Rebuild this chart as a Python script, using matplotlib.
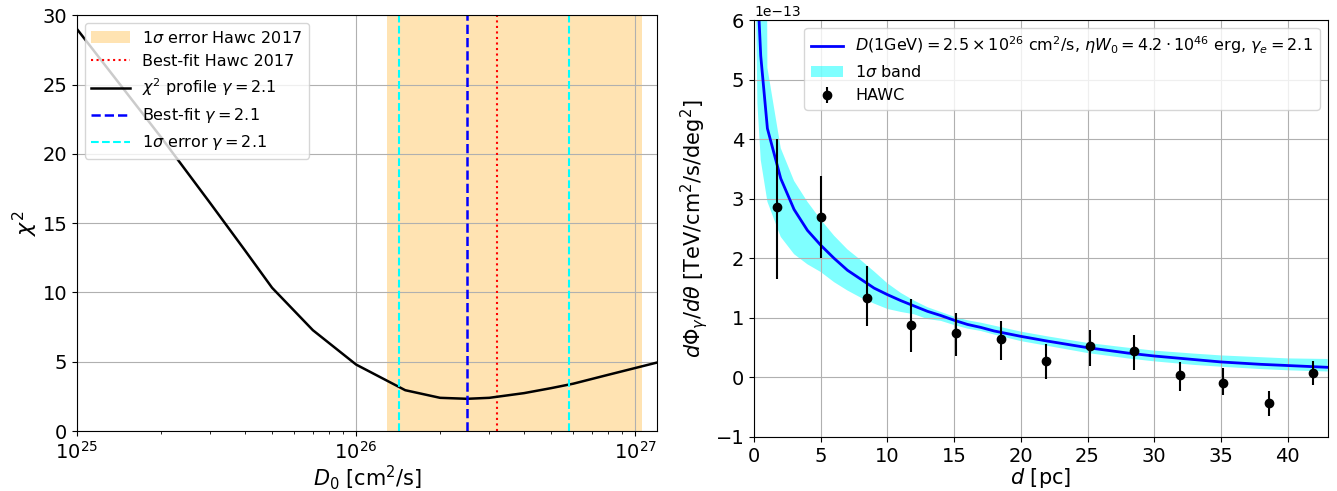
import numpy as np
import matplotlib
matplotlib.use("Agg")
import matplotlib.pyplot as plt

# ---------------- Left panel data ----------------
D0_values = [1e25, 2e25, 3e25, 4e25, 5e25, 7e25, 1e26, 1.5e26, 2e26, 2.5e26,
             3e26, 4e26, 5e26, 6e26, 8e26, 1e27, 1.2e27]
chi2_values = [29.0, 21.2, 16.45, 13.03, 10.34, 7.28, 4.8, 2.95, 2.40, 2.33,
               2.40, 2.74, 3.10, 3.42, 4.06, 4.55, 4.95]
hawc2017_band = [1.29e26, 1.06e27]
hawc2017_best = 3.2e26
bestfit_gamma21 = 2.5e26
err_gamma21 = [1.43e26, 5.8e26]

# ---------------- Right panel data (units of 1e-13) ----------------
SCALE = 1e-13
d_model = [0.1, 0.25, 0.5, 1, 2, 3, 4, 5, 6, 7, 8, 9, 10, 11, 12, 13, 14, 15,
           16, 17, 18, 20, 22, 25, 28, 30, 33, 35, 38, 40, 43]
model_central = [9.0, 6.6, 5.4, 4.18, 3.34, 2.82, 2.47, 2.22, 2.0, 1.80, 1.65,
                 1.50, 1.39, 1.29, 1.20, 1.11, 1.04, 0.96, 0.89, 0.84, 0.78,
                 0.69, 0.61, 0.50, 0.41, 0.36, 0.30, 0.26, 0.22, 0.20, 0.17]
model_upper = [60, 50, 30, 5.2, 3.85, 3.3, 2.95, 2.65, 2.38, 2.15, 1.97, 1.78,
               1.58, 1.42, 1.29, 1.18, 1.10, 1.02, 0.96, 0.92, 0.87, 0.77,
               0.69, 0.58, 0.50, 0.45, 0.40, 0.37, 0.34, 0.32, 0.31]
model_lower = [7.0, 4.6, 3.65, 2.95, 2.36, 2.07, 1.90, 1.77, 1.60, 1.46, 1.34,
               1.24, 1.15, 1.10, 1.06, 0.98, 0.95, 0.88, 0.82, 0.78, 0.72,
               0.61, 0.53, 0.41, 0.32, 0.27, 0.21, 0.18, 0.14, 0.12, 0.10]

d_hawc = [1.75, 5.0, 8.48, 11.8, 15.15, 18.48, 21.85, 25.18, 28.48, 31.93,
          35.15, 38.63, 41.93]
flux_hawc = [2.857, 2.69, 1.339, 0.885, 0.753, 0.652, 0.275, 0.528, 0.444,
             0.04, -0.095, -0.433, 0.073]
flux_err_hi = [4.01, 3.38, 1.87, 1.31, 1.084, 0.95, 0.556, 0.79, 0.708, 0.253,
               0.157, -0.236, 0.27]
flux_err_lo = [1.65, 2.01, 0.863, 0.426, 0.36, 0.287, -0.034, 0.2, 0.118,
               -0.23, -0.287, -0.65, -0.135]

fig = plt.figure(figsize=(13.37, 4.91), dpi=100)
ax1 = fig.add_axes([0.0576, 0.122, 0.434, 0.847])
ax2 = fig.add_axes([0.564, 0.110, 0.429, 0.849])

# ---- Left panel ----
ax1.axvspan(hawc2017_band[0], hawc2017_band[1], color='orange', alpha=0.3,
            lw=0, label='1$\\sigma$ error Hawc 2017')
ax1.axvline(hawc2017_best, color='red', ls=':', lw=1.5, label='Best-fit Hawc 2017')
ax1.plot(D0_values, chi2_values, color='black', lw=1.8,
         label='$\\chi^2$ profile $\\gamma=2.1$')
ax1.axvline(bestfit_gamma21, color='blue', ls='--', lw=1.8, label='Best-fit $\\gamma=2.1$')
ax1.axvline(err_gamma21[0], color='cyan', ls='--', lw=1.5, label='1$\\sigma$ error $\\gamma=2.1$')
ax1.axvline(err_gamma21[1], color='cyan', ls='--', lw=1.5)
ax1.set_xscale('log')
ax1.set_xlim(1e25, 1.2e27)
ax1.set_ylim(0, 30)
ax1.grid(True)
ax1.set_xlabel('$D_0$ [cm$^2$/s]', fontsize=15, labelpad=0)
ax1.set_ylabel('$\\chi^2$', fontsize=16, labelpad=2)
ax1.tick_params(labelsize=14)
ax1.legend(loc='upper left', fontsize=11.5, handlelength=2.4)

# ---- Right panel ----
d_m = np.array(d_model)
ax2.fill_between(d_m, np.array(model_lower) * SCALE, np.array(model_upper) * SCALE,
                 color='cyan', alpha=0.5, lw=0, label='1$\\sigma$ band')
ax2.plot(d_m, np.array(model_central) * SCALE, color='blue', lw=2,
         label='$D(1{\\rm GeV}) = 2.5\\times10^{26}$ cm$^2$/s, $\\eta W_0 = 4.2\\cdot10^{46}$ erg, $\\gamma_e = 2.1$')
fh = np.array(flux_hawc)
yerr = [fh - np.array(flux_err_lo), np.array(flux_err_hi) - fh]
ax2.errorbar(d_hawc, fh * SCALE, yerr=np.array(yerr) * SCALE, fmt='o', color='black',
             ms=6, elinewidth=1.5, label='HAWC')
ax2.set_xlim(0, 43)
ax2.set_ylim(-1e-13, 6e-13)
ax2.grid(True)
ax2.set_xlabel('$d$ [pc]', fontsize=15, labelpad=0)
ax2.set_ylabel('$d\\Phi_\\gamma/d\\theta$ [TeV/cm$^2$/s/deg$^2$]', fontsize=15, labelpad=4)
ax2.tick_params(labelsize=14)
ax2.yaxis.get_offset_text().set_fontsize(10)
h, l = ax2.get_legend_handles_labels()
order = [1, 0, 2]
ax2.legend([h[i] for i in order], [l[i] for i in order], loc='upper right', fontsize=11.5)

fig.savefig('out.png', dpi=100)
